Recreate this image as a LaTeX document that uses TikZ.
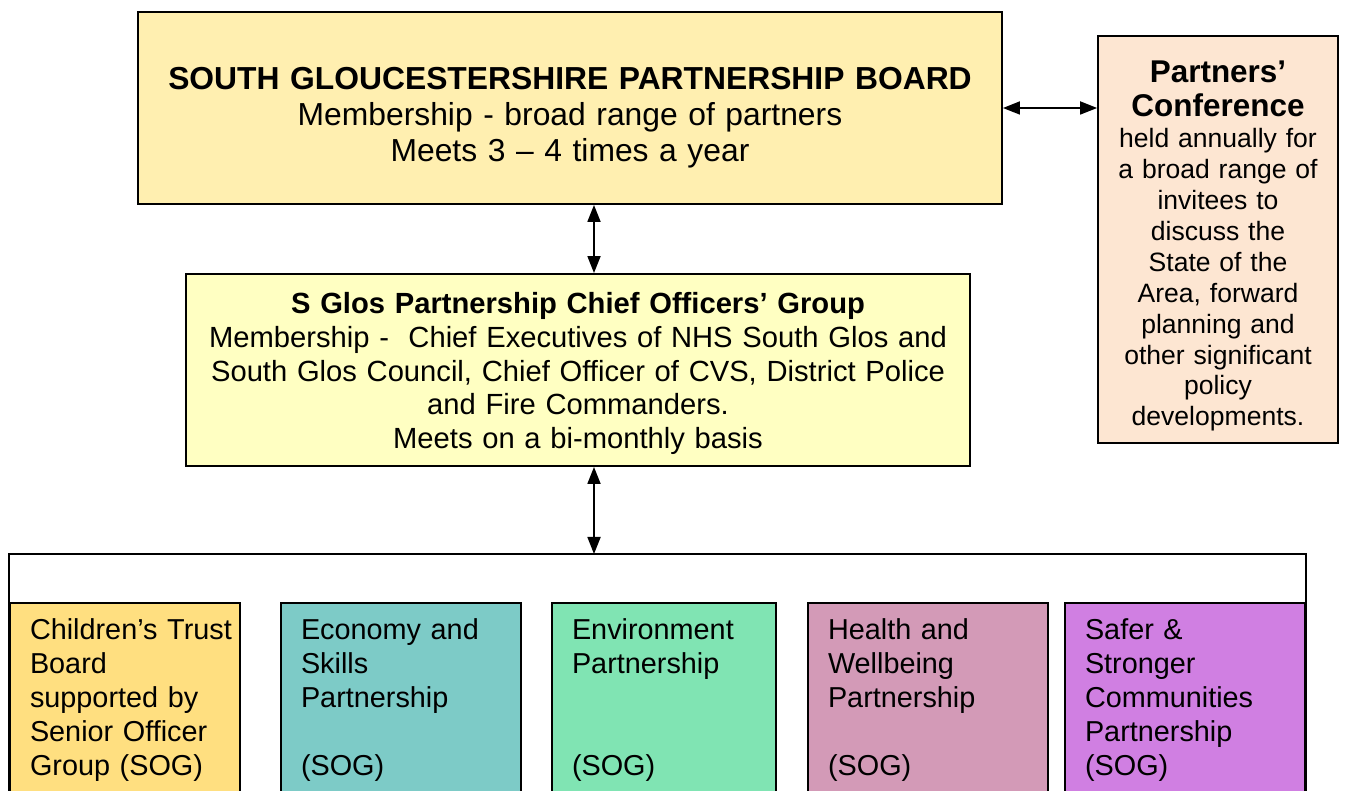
\documentclass[tikz,border=0pt]{standalone}
\usepackage{fontspec}
\setmainfont{Liberation Sans}
\usepackage{tikz}
\usetikzlibrary{arrows.meta}
\definecolor{sgBoard}{HTML}{FFEFB0}
\definecolor{sgOfficers}{HTML}{FFFFC2}
\definecolor{sgConf}{HTML}{FDE6D2}
\definecolor{sgChildren}{HTML}{FFDF80}
\definecolor{sgEconomy}{HTML}{7DCBC7}
\definecolor{sgEnviron}{HTML}{80E4B3}
\definecolor{sgHealth}{HTML}{D39AB7}
\definecolor{sgSafer}{HTML}{D07FE2}
\tikzset{
  boardbox/.style={rectangle,draw=black,line width=1.1pt,fill=sgBoard,
    minimum width=17.28cm,minimum height=3.84cm,text width=16.6cm,align=center,
    font=\fontsize{18.1}{20.5}\selectfont},
  officerbox/.style={rectangle,draw=black,line width=1.1pt,fill=sgOfficers,
    minimum width=15.68cm,minimum height=3.84cm,text width=15.2cm,align=center,
    font=\fontsize{16.6}{19.2}\selectfont},
  confbox/.style={rectangle,draw=black,line width=1pt,fill=sgConf,
    minimum width=4.8cm,minimum height=8.14cm,text width=4.5cm,align=center,
    font=\fontsize{15.1}{17.6}\selectfont},
  themebox/.style={rectangle,draw=black,line width=0.9pt,anchor=north,
    inner xsep=0.1cm,inner ysep=0.32cm,text width=#1,align=left,
    execute at begin node={\leftskip 0.3cm\relax},
    font=\fontsize{16.4}{19.3}\selectfont},
  link/.style={{Triangle[length=3.4mm,width=2.6mm]}-{Triangle[length=3.4mm,width=2.6mm]},
    line width=1pt}
}

\begin{document}
\begin{tikzpicture}
  \useasboundingbox (0,0) rectangle (26.9,15.82);
  \clip (0,0) rectangle (26.9,15.82);
  % top row
  \node[boardbox] (board) at (11.40,13.66)
    {\rule{0pt}{24pt}{\bfseries SOUTH GLOUCESTERSHIRE PARTNERSHIP BOARD}\\
     Membership - broad range of partners\\
     Meets 3 -- 4 times a year};
  \node[confbox] (conf) at (24.36,11.03)
    {{\bfseries\fontsize{17.9}{19.3}\selectfont \rule{0pt}{20pt}Partners'\\Conference\par}
     held annually for\\a broad range of\\invitees to\\discuss the\\State of the\\
     Area, forward\\planning and\\other significant\\policy\\developments.};
  \node[officerbox] (cog) at (11.56,8.42)
    {\rule{0pt}{16pt}{\bfseries S Glos Partnership Chief Officers' Group}\\
     Membership -~ Chief Executives of NHS South Glos and\\
     South Glos Council, Chief Officer of CVS, District Police\\
     and Fire Commanders.\\
     Meets on a bi-monthly basis};
  % theme partnerships
  \node[themebox=4.4cm,fill=sgChildren] (children) at (2.50,3.78)
    {Children's Trust\\Board\\supported by\\Senior Officer\\Group (SOG)};
  \node[themebox=4.6cm,fill=sgEconomy] (economy) at (8.02,3.78)
    {Economy and\\Skills\\Partnership\\ \mbox{}\\(SOG)};
  \node[themebox=4.28cm,fill=sgEnviron] (environ) at (13.28,3.78)
    {Environment\\Partnership\\ \mbox{}\\ \mbox{}\\(SOG)};
  \node[themebox=4.6cm,fill=sgHealth] (health) at (18.56,3.78)
    {Health and\\Wellbeing\\Partnership\\ \mbox{}\\(SOG)};
  \node[themebox=4.6cm,fill=sgSafer] (safer) at (23.70,3.78)
    {Safer \&\\Stronger\\Communities\\Partnership\\(SOG)};
  \coordinate (tie) at (11.88,4.74);
  % links
  \draw[line width=0.9pt] (children.south west) |- (tie) -| (safer.south east);
  \draw[link] (board.east) -- (board.east -| conf.west);
  \draw[link] (board.south -| tie) -- (cog.north -| tie);
  \draw[link] (cog.south -| tie) -- (tie);
\end{tikzpicture}
\end{document}
